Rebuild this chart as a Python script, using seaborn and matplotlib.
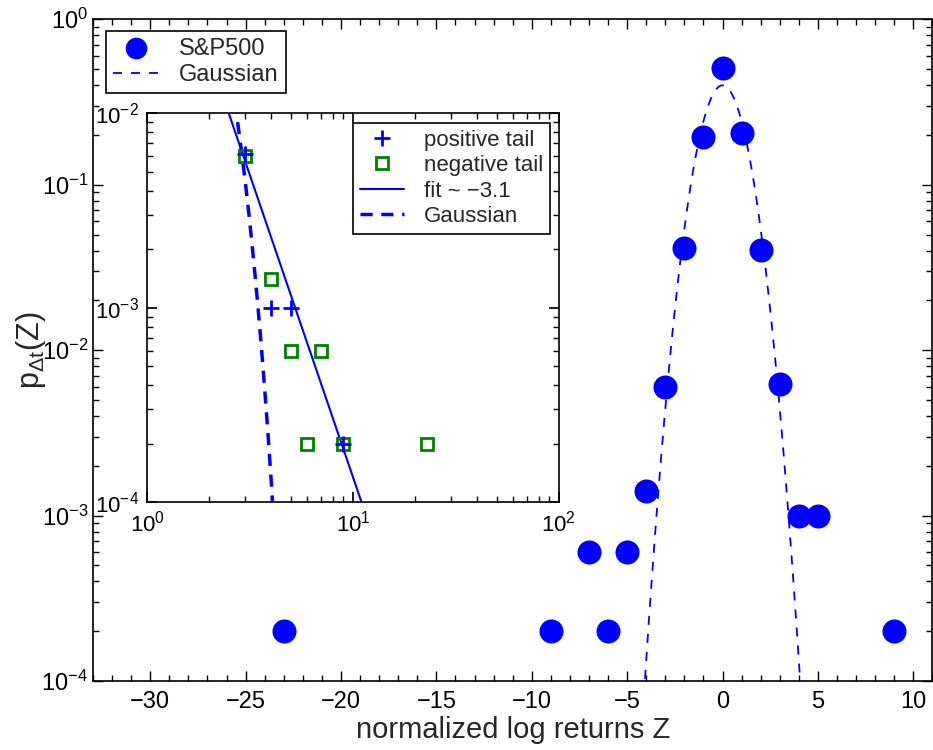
import numpy as np
import pandas as pd
import matplotlib
matplotlib.use('Agg')
import matplotlib.pyplot as plt
import seaborn as sns
from matplotlib.ticker import MultipleLocator, LogLocator, NullFormatter

# S&P500 normalized log returns histogram
z_values = [-23, -9, -7, -6, -5, -4, -3, -2, -1, 0, 1, 2, 3, 4, 5, 9]
p_values = [0.0002, 0.0002, 0.0006, 0.0002, 0.0006, 0.0014, 0.006, 0.0415,
            0.195, 0.51, 0.206, 0.0405, 0.0062, 0.001, 0.001, 0.0002]

# Gaussian reference and power-law fit of the tails
gauss_mu = 0.0
gauss_sigma = 1.0
fit_exponent = -3.1
fit_amplitude = 0.17

BLUE = (0, 0, 1)
GREEN = (0, 0.5, 0)

sns.set_theme(style='ticks')
plt.rcParams['font.family'] = ['Liberation Sans', 'DejaVu Sans']
plt.rcParams['mathtext.fontset'] = 'custom'
plt.rcParams['mathtext.rm'] = 'Liberation Sans'
plt.rcParams['mathtext.it'] = 'Liberation Sans'
plt.rcParams['mathtext.default'] = 'regular'

df = pd.DataFrame({'Z': z_values, 'p': p_values})
pos = df[df['Z'] > 0].rename(columns={'Z': 'absZ'})
neg = df[df['Z'] < 0].assign(absZ=lambda d: -d['Z'])

zz = np.linspace(-5, 5, 600)
gauss = pd.DataFrame({'Z': zz, 'p': np.exp(-0.5 * ((zz - gauss_mu) / gauss_sigma) ** 2)
                      / (gauss_sigma * np.sqrt(2 * np.pi))})

fig = plt.figure(figsize=(9.33, 7.5), dpi=100)
ax = fig.add_axes([0.0997, 0.092, 0.8996, 0.8823])

sns.lineplot(data=gauss, x='Z', y='p', ax=ax, color=BLUE, lw=1.3,
             label='Gaussian', zorder=2)
ax.lines[-1].set_linestyle((0, (5, 5)))
sns.scatterplot(data=df, x='Z', y='p', ax=ax, color=BLUE, s=300,
                linewidth=0, label='S&P500', zorder=3)

ax.set_yscale('log')
ax.set_xlim(-33, 11)
ax.set_ylim(1e-4, 1)
ax.xaxis.set_major_locator(MultipleLocator(5))
ax.xaxis.set_minor_locator(MultipleLocator(1))
ax.yaxis.set_major_locator(LogLocator(base=10, numticks=10))
ax.yaxis.set_minor_locator(LogLocator(base=10, subs=np.arange(2, 10), numticks=10))
ax.yaxis.set_minor_formatter(NullFormatter())
ax.tick_params(which='both', direction='in', top=True, right=True,
               labelsize=17, width=1, colors='black')
ax.tick_params(which='major', length=7)
ax.tick_params(which='minor', length=4)
ax.tick_params(axis='x', which='major', pad=7)
ax.set_xticks([-30, -25, -20, -15, -10, -5, 0, 5, 10])
ax.set_xticklabels(['\u221230', '\u221225', '\u221220', '\u221215', '\u221210',
                    '\u22125', '0', '5', '10'])
for sp in ax.spines.values():
    sp.set_linewidth(1.2)
    sp.set_color('black')
ax.set_xlabel('normalized log returns Z', fontsize=21, labelpad=2)
ax.set_ylabel(r'p$_{\Delta t}$(Z)', fontsize=22)
ax.yaxis.set_label_coords(-0.054, 0.5)

h, l = ax.get_legend_handles_labels()
order = [l.index('S&P500'), l.index('Gaussian')]
leg = ax.legend([h[i] for i in order], [l[i] for i in order], loc='upper left',
                bbox_to_anchor=(0.0155, 0.983), borderaxespad=0, fontsize=17,
                frameon=True, fancybox=False, edgecolor='black', framealpha=1,
                handlelength=1.9, borderpad=0.3, labelspacing=0.2,
                handletextpad=0.9, markerscale=0.9)
leg.get_frame().set_linewidth(1.2)

# inset: tails on log-log axes
ins = fig.add_axes([0.1576, 0.3303, 0.4413, 0.5187])
zt = np.linspace(1, 100, 2000)
tails = pd.DataFrame({'absZ': zt,
                      'fit': fit_amplitude * zt ** fit_exponent,
                      'gauss': np.exp(-0.5 * ((zt - gauss_mu) / gauss_sigma) ** 2)
                      / (gauss_sigma * np.sqrt(2 * np.pi))})

ins.plot(pos['absZ'], pos['p'], ls='', marker='+', ms=11, mew=2, color=BLUE,
         label='positive tail', zorder=4)
ins.plot(neg['absZ'], neg['p'], ls='', marker='s', ms=9, mew=2, mfc='none',
         mec=GREEN, label='negative tail', zorder=3)
sns.lineplot(data=tails, x='absZ', y='fit', ax=ins, color=BLUE, lw=1.5,
             label='fit ~ \u22123.1')
sns.lineplot(data=tails, x='absZ', y='gauss', ax=ins, color=BLUE, lw=2.5,
             label='Gaussian')
ins.lines[-1].set_linestyle((0, (3.5, 2.5)))
ins.set_xscale('log')
ins.set_yscale('log')
ins.set_xlim(1, 100)
ins.set_ylim(1e-4, 1e-2)
ins.set_xlabel('')
ins.set_ylabel('')
ins.xaxis.set_major_locator(LogLocator(base=10, numticks=10))
ins.xaxis.set_minor_locator(LogLocator(base=10, subs=np.arange(2, 10), numticks=10))
ins.yaxis.set_major_locator(LogLocator(base=10, numticks=10))
ins.yaxis.set_minor_locator(LogLocator(base=10, subs=np.arange(2, 10), numticks=10))
ins.xaxis.set_minor_formatter(NullFormatter())
ins.yaxis.set_minor_formatter(NullFormatter())
ins.tick_params(which='both', direction='in', top=True, right=True,
                labelsize=16, colors='black')
ins.tick_params(which='major', length=7, pad=6)
ins.tick_params(which='minor', length=4)
for sp in ins.spines.values():
    sp.set_linewidth(1.2)
    sp.set_color('black')
ileg = ins.legend(loc='upper right', bbox_to_anchor=(0.979, 0.975), borderaxespad=0,
                  fontsize=16, frameon=True, fancybox=False, edgecolor='black',
                  framealpha=1, handlelength=2.0, borderpad=0.3, labelspacing=0.2,
                  handletextpad=0.9)
ileg.get_frame().set_linewidth(1.2)

fig.savefig('out.png', dpi=100)
